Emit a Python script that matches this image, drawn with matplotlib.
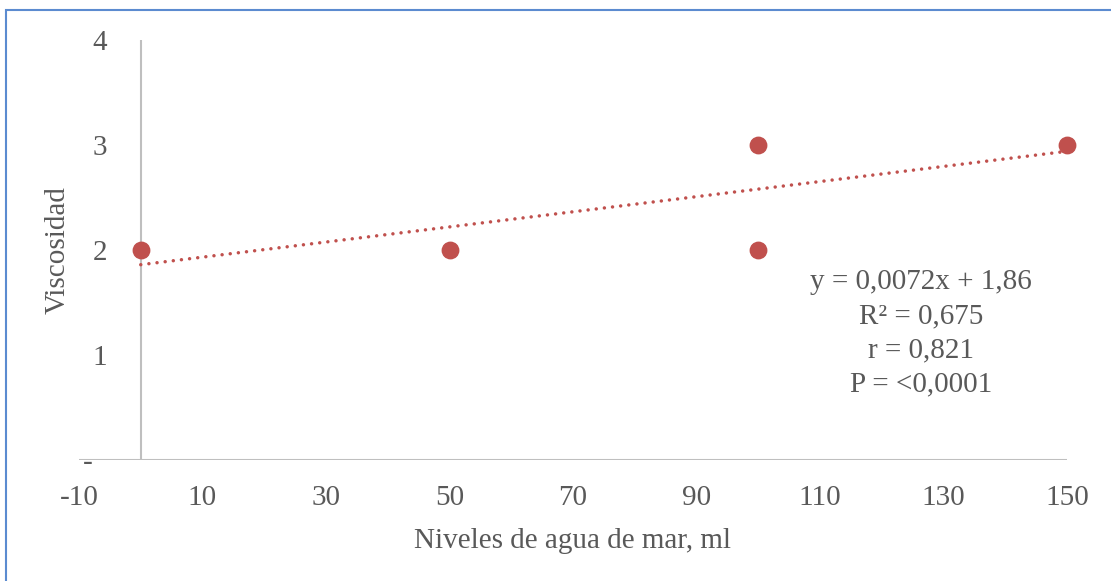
import matplotlib
matplotlib.use("Agg")
import matplotlib.pyplot as plt
from matplotlib.patches import Rectangle

# datos de viscosidad frente a nivel de agua de mar
agua_ml = [0, 50, 100, 100, 150]
viscosidad = [2, 2, 3, 2, 3]

# recta de regresion lineal
pendiente = 0.0072
intercepto = 1.86
estadisticos = ["y = 0,0072x + 1,86", "R² = 0,675", "r = 0,821", "P = <0,0001"]

x_ticks = [-10, 10, 30, 50, 70, 90, 110, 130, 150]
y_ticks = [0, 1, 2, 3, 4]
y_labels = ["-  ", "1", "2", "3", "4"]

gris = "#595959"
rojo = "#C0504D"
fs = 21
plt.rcParams["font.family"] = ["Liberation Serif", "DejaVu Serif"]

fig = plt.figure(figsize=(11.11, 5.81), dpi=100)
ax = fig.add_axes([79 / 1111, 1 - 460 / 581, 988 / 1111, 420 / 581])

# ejes cruzando en cero
ax.axhline(0, color="#BFBFBF", lw=1.5, zorder=1)
ax.axvline(0, color="#BFBFBF", lw=1.5, zorder=1)
for s in ax.spines.values():
    s.set_visible(False)

ax.scatter(agua_ml, viscosidad, s=140, color=rojo, zorder=3, clip_on=False)

xs = [min(agua_ml), max(agua_ml)]
ys = [pendiente * x + intercepto for x in xs]
ax.plot(xs, ys, color=rojo, lw=2.5, linestyle=(0, (0.01, 2.35)),
        dash_capstyle="round", zorder=2, clip_on=False)

ax.set_xlim(-10, 150)
ax.set_ylim(0, 4)
ax.set_xticks(x_ticks)
ax.set_xticklabels([str(v) for v in x_ticks])
ax.set_yticks(y_ticks)
ax.set_yticklabels(y_labels)
ax.tick_params(axis="both", length=0, labelsize=fs, labelcolor=gris)
ax.tick_params(axis="x", pad=18)
ax.tick_params(axis="y", pad=-20)

ax.set_xlabel("Niveles de agua de mar, ml", fontsize=fs, color=gris, labelpad=12)
ax.set_ylabel("Viscosidad", fontsize=fs, color=gris, va="center")
ax.yaxis.set_label_coords(-0.022, 0.5)

ax.text(126.4, 1.21, "\n".join(estadisticos), ha="center", va="center",
        fontsize=fs, color=gris, linespacing=1.4)

# marco del grafico
fig.add_artist(Rectangle((6 / 1111, -0.1), 1.2, 1.1 - 10 / 581,
                         transform=fig.transFigure, fill=False,
                         edgecolor="#5B8BD0", lw=1.5))

fig.savefig("out.png", dpi=100)
